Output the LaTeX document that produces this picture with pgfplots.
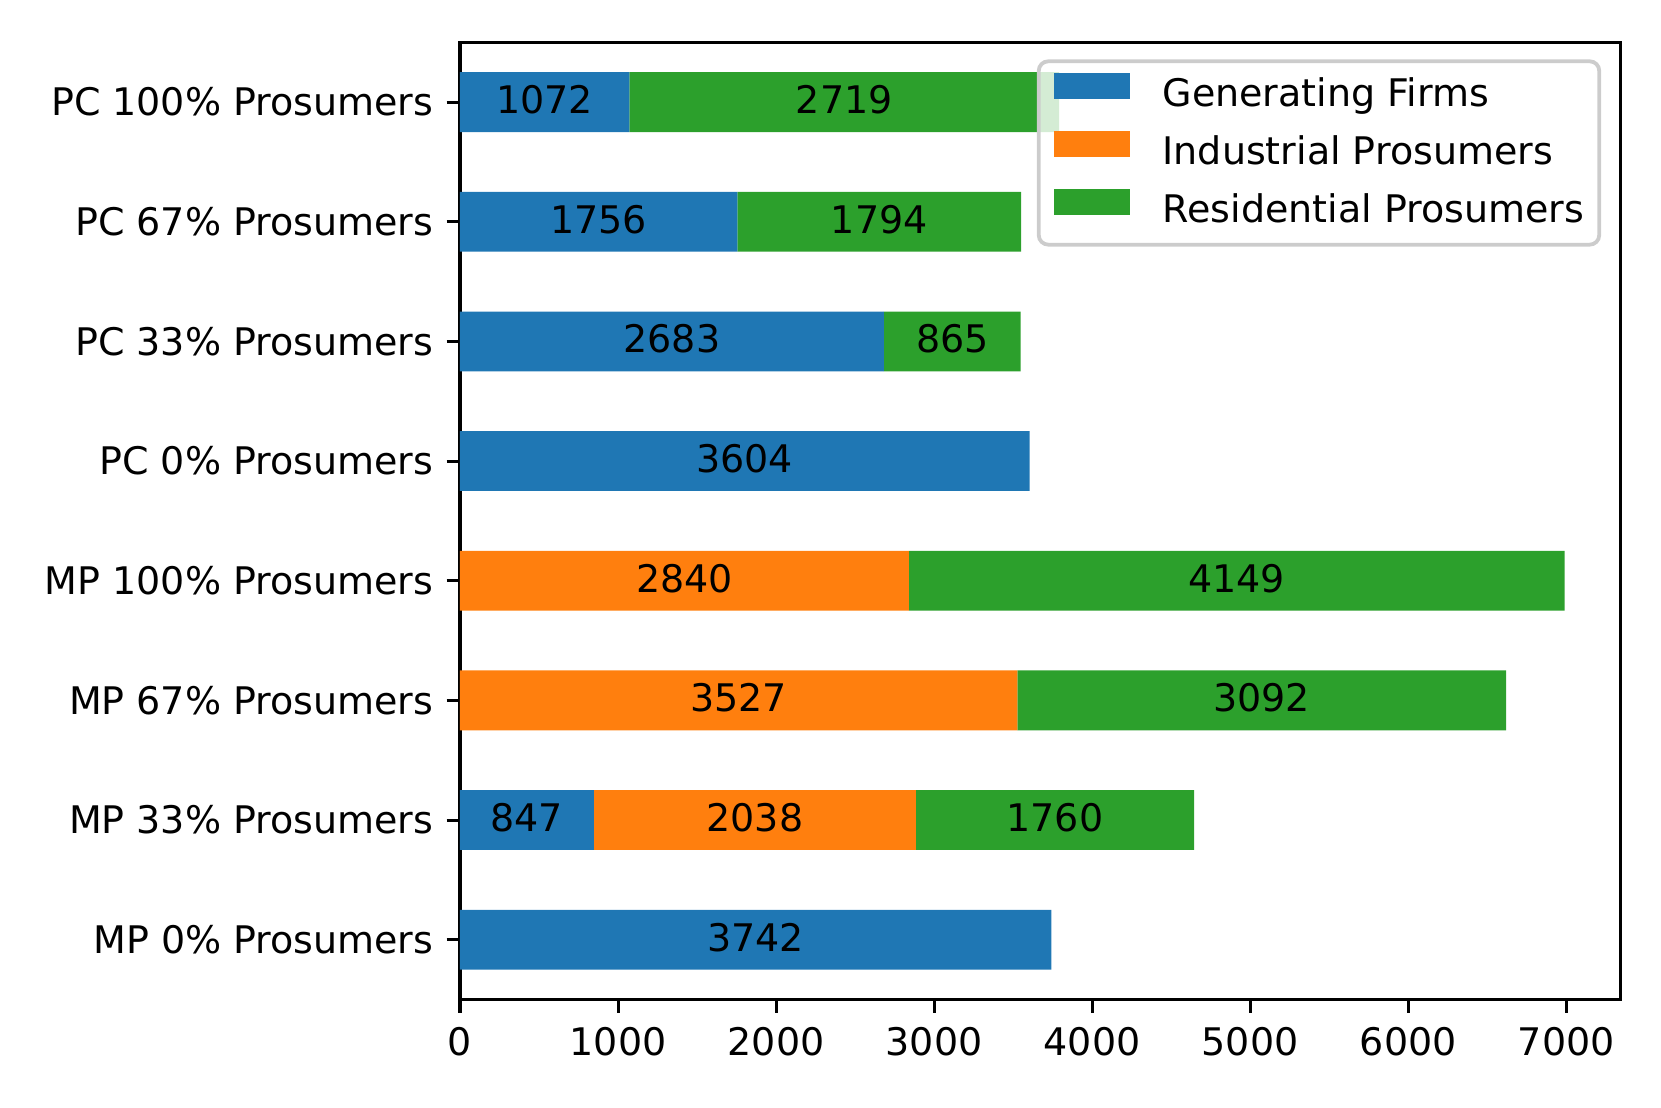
\documentclass[border=0pt]{standalone}
\usepackage{fontspec}
\setmainfont{DejaVu Sans}
\usepackage{pgfplots}
\pgfplotsset{compat=1.18}
\usepackage{pgfplotstable}

\definecolor{tabblue}{HTML}{1F77B4}
\definecolor{taborange}{HTML}{FF7F0E}
\definecolor{tabgreen}{HTML}{2CA02C}

% idx 0 = MP 0% ... idx 7 = PC 100%
\pgfplotstableread{
idx gf   ip   rp
0   3742 0    0
1   847  2038 1760
2   0    3527 3092
3   0    2840 4149
4   3604 0    0
5   2683 0    865
6   1756 0    1794
7   1072 0    2719
}\profits

\pgfplotsset{
  segbar/.style={fill=#1, draw=none,
    legend image code/.code={\fill[##1, draw=none, sharp corners, fill opacity=1] (0pt,-0.5pt) rectangle (20pt,6.5pt);}},
}

\begin{document}
\begin{tikzpicture}
\path[use as bounding box] (-121.05pt,-28.29pt) rectangle (316.05pt,263.03pt);
\begin{axis}[
  at={(0,0)}, anchor=south west,
  scale only axis, width=305.3pt, height=251.9pt,
  xbar stacked, bar width=0.5,
  xmin=0, xmax=7341, ymin=-0.5, ymax=7.5,
  ytick={0,...,7},
  yticklabels={MP 0\% Prosumers, MP 33\% Prosumers, MP 67\% Prosumers, MP 100\% Prosumers,
               PC 0\% Prosumers, PC 33\% Prosumers, PC 67\% Prosumers, PC 100\% Prosumers},
  xtick={0,1000,...,7000},
  scaled x ticks=false,
  /pgf/number format/assume math mode=true,
  /pgf/number format/1000 sep={},
  tick align=outside, major tick length=3.5pt,
  every tick/.style={black, line width=0.8pt},
  xtick pos=bottom, ytick pos=left,
  axis line style={line width=0.8pt},
  yticklabel style={font=\normalsize, anchor=east, inner sep=0pt, xshift=-3.3pt},
  xticklabel style={font=\normalsize, anchor=north, inner sep=0pt, yshift=-3.7pt},
  nodes near coords={\ifdim\lab pt>0pt\pgfmathprintnumber[fixed,precision=0]{\lab}\fi},
  every node near coord/.append style={anchor=center, yshift=0.6pt, font=\normalsize, text=black},
  legend cell align=left,
  legend style={at={(1,1)}, anchor=north east, xshift=-5pt, yshift=-4.5pt,
    draw=black!20, line width=1pt, rounded corners=2.5pt,
    fill=white, fill opacity=0.8, text opacity=1,
    inner xsep=4pt, inner ysep=3pt, row sep=3.5pt, column sep=8.6pt,
    nodes={inner xsep=0pt, inner ysep=0pt, text height=7.7pt, text depth=2.8pt},
    font=\normalsize},
]
\addplot+[segbar=tabblue, visualization depends on={\thisrow{gf} \as \lab}]
  table[x=gf, y=idx] {\profits};
\addplot+[segbar=taborange, visualization depends on={\thisrow{ip} \as \lab}]
  table[x=ip, y=idx] {\profits};
\addplot+[segbar=tabgreen, visualization depends on={\thisrow{rp} \as \lab}]
  table[x=rp, y=idx] {\profits};
\legend{Generating Firms, Industrial Prosumers, Residential Prosumers}
\end{axis}
\end{tikzpicture}
\end{document}
